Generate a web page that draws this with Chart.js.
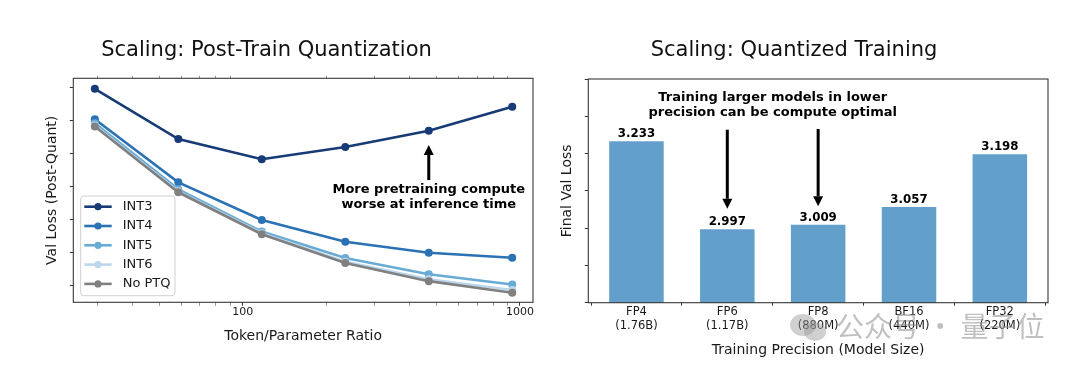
<!DOCTYPE html>
<html><head><meta charset="utf-8">
<script src="https://cdn.jsdelivr.net/npm/chart.js@4.4.1/dist/chart.umd.min.js"></script>
<style>
html,body{margin:0;padding:0;background:#fff;width:1080px;height:372px;overflow:hidden;}
#left{position:absolute;left:0;top:0;width:540px;height:372px;}
#right{position:absolute;left:540px;top:0;width:540px;height:372px;}
#wm{position:absolute;left:836px;top:305px;font-family:"Noto Sans CJK SC";font-size:28px;line-height:40px;color:rgba(140,140,140,0.55);white-space:nowrap;}
#ic1{position:absolute;left:790px;top:314px;width:26px;height:22px;border-radius:50%;background:rgba(150,150,150,0.45);}
#ic2{position:absolute;left:804px;top:322px;width:22px;height:19px;border-radius:50%;background:rgba(150,150,150,0.45);}
</style></head><body>
<div id="left"><canvas id="c1" width="540" height="372"></canvas></div>
<div id="right"><canvas id="c2" width="540" height="372"></canvas></div>
<div id="ic1"></div><div id="ic2"></div>
<div id="wm">公众号 · 量子位</div>
<script>
// ---------- data: left chart ----------
const ratios = [29.3, 58.6, 117.2, 234.4, 468.8, 937.5];
const int3  = [3.596, 3.444, 3.383, 3.420, 3.469, 3.542];
const int4  = [3.504, 3.313, 3.199, 3.133, 3.100, 3.085];
const int5  = [3.492, 3.292, 3.164, 3.084, 3.035, 3.004];
const int6  = [3.485, 3.286, 3.159, 3.073, 3.020, 2.987];
const noPtq = [3.482, 3.283, 3.156, 3.069, 3.014, 2.979];
const seriesNames = ['INT3', 'INT4', 'INT5', 'INT6', 'No PTQ'];
const leftYTicks = [3.0, 3.1, 3.2, 3.3, 3.4, 3.5, 3.6];
const xMajorTicks = [100, 1000];
const xMinorTicks = [30, 40, 50, 60, 70, 80, 90, 200, 300, 400, 500, 600, 700, 800, 900];

// ---------- data: right chart ----------
const precisions = ['FP4', 'FP6', 'FP8', 'BF16', 'FP32'];
const modelSizes = ['(1.76B)', '(1.17B)', '(880M)', '(440M)', '(220M)'];
const finalLoss = [3.233, 2.997, 3.009, 3.057, 3.198];
const rightYTicks = [2.8, 2.9, 3.0, 3.1, 3.2, 3.3, 3.4];

Chart.defaults.font.family = "'DejaVu Sans', sans-serif";
Chart.defaults.color = '#1a1a1a';

const seriesValues = [int3, int4, int5, int6, noPtq];
const seriesColors = ['#173b76', '#2a72b3', '#68acd6', '#bcd6eb', '#808080'];
const AXC = '#383838';

function arrow(ctx, x, yFrom, yTo) {
  const dir = Math.sign(yTo - yFrom), hl = 10, hw = 5;
  ctx.save();
  ctx.strokeStyle = '#000'; ctx.fillStyle = '#000'; ctx.lineWidth = 3;
  ctx.beginPath(); ctx.moveTo(x, yFrom); ctx.lineTo(x, yTo - dir * hl); ctx.stroke();
  ctx.beginPath(); ctx.moveTo(x, yTo); ctx.lineTo(x - hw, yTo - dir * hl); ctx.lineTo(x + hw, yTo - dir * hl); ctx.closePath(); ctx.fill();
  ctx.restore();
}
function frame(chart) {
  const {ctx, chartArea: a} = chart;
  ctx.save(); ctx.strokeStyle = AXC; ctx.lineWidth = 1.1;
  ctx.strokeRect(a.left, a.top, a.right - a.left, a.bottom - a.top);
  ctx.restore();
}

const leftPlugin = {
  id: 'leftExtras',
  afterDatasetsDraw(chart) {
    frame(chart);
    const {ctx, chartArea: a, scales} = chart;
    const xs = scales.x, ys = scales.y;
    const ax = xs.getPixelForValue(ratios[4]);
    arrow(ctx, ax, ys.getPixelForValue(3.320), ys.getPixelForValue(3.426));
    ctx.save();
    ctx.font = "bold 13px 'DejaVu Sans'"; ctx.fillStyle = '#000';
    ctx.textAlign = 'center'; ctx.textBaseline = 'middle';
    ctx.fillText('More pretraining compute', ax, ys.getPixelForValue(3.292));
    ctx.fillText('worse at inference time', ax, ys.getPixelForValue(3.247));
    ctx.restore();
    const lx = a.left + 7.4, lw = 94.3, lh = 99.7, ly = a.bottom - 6.6 - lh;
    ctx.save();
    ctx.beginPath();
    if (ctx.roundRect) ctx.roundRect(lx, ly, lw, lh, 3); else ctx.rect(lx, ly, lw, lh);
    ctx.fillStyle = 'rgba(255,255,255,0.85)'; ctx.fill();
    ctx.strokeStyle = '#d0d0d0'; ctx.lineWidth = 1; ctx.stroke();
    ctx.font = "13px 'DejaVu Sans'"; ctx.textBaseline = 'middle'; ctx.textAlign = 'left';
    seriesNames.forEach((n, i) => {
      const y = ly + 10.7 + i * 19.3;
      ctx.strokeStyle = seriesColors[i]; ctx.lineWidth = 2.6;
      ctx.beginPath(); ctx.moveTo(lx + 3.6, y); ctx.lineTo(lx + 31, y); ctx.stroke();
      ctx.fillStyle = seriesColors[i];
      ctx.beginPath(); ctx.arc(lx + 17.3, y, 3.6, 0, Math.PI * 2); ctx.fill();
      ctx.fillStyle = '#1a1a1a'; ctx.fillText(n, lx + 42, y);
    });
    ctx.restore();
  }
};

const allXTicks = xMinorTicks.concat(xMajorTicks).sort((p, q) => p - q);
function logTicks(scale) { scale.ticks = allXTicks.map(v => ({value: v})); }

new Chart(document.getElementById('c1'), {
  type: 'line',
  data: {
    datasets: seriesNames.map((n, i) => ({
      label: n,
      data: ratios.map((r, j) => ({x: r, y: seriesValues[i][j]})),
      borderColor: seriesColors[i], backgroundColor: seriesColors[i],
      pointBackgroundColor: seriesColors[i], pointBorderWidth: 0,
      borderWidth: 2.6, pointRadius: 4, pointHoverRadius: 4,
      tension: 0, order: 5 - i
    }))
  },
  options: {
    responsive: false, animation: false,
    layout: {padding: {left: 0, right: 7, top: 0, bottom: 0}},
    plugins: {
      legend: {display: false}, tooltip: {enabled: false},
      title: {display: true, text: 'Scaling: Post-Train Quantization',
        font: {size: 21, weight: 'normal'}, color: '#111', padding: {top: 38, bottom: 10.1}}
    },
    scales: {
      x: {
        type: 'logarithmic', position: 'bottom', min: 24.5, max: 1114,
        afterBuildTicks: logTicks,
        afterFit: s => { s.height = 69.7; },
        border: {display: false},
        grid: {drawOnChartArea: false, drawTicks: true, tickLength: 3.5,
          tickColor: c => xMajorTicks.includes(c.tick && c.tick.value) ? AXC : '#6a6a6a',
          tickWidth: c => xMajorTicks.includes(c.tick && c.tick.value) ? 1 : 0.7},
        ticks: {autoSkip: false, maxRotation: 0, padding: 0, font: {size: 11}, color: '#1a1a1a',
          callback: v => xMajorTicks.includes(v) ? String(v) : ''},
        title: {display: true, text: 'Token/Parameter Ratio', font: {size: 14}, color: '#1a1a1a',
          padding: {top: 0, bottom: 27.6}}
      },
      x2: {
        type: 'logarithmic', position: 'top', min: 24.5, max: 1114,
        afterBuildTicks: logTicks,
        afterFit: s => { s.height = 5; },
        border: {display: false},
        grid: {drawOnChartArea: false, drawTicks: true, tickLength: 2.5,
          tickColor: c => xMajorTicks.includes(c.tick && c.tick.value) ? 'rgba(0,0,0,0)' : '#6a6a6a',
          tickWidth: 0.7},
        ticks: {display: false}
      },
      y: {
        type: 'linear', position: 'left', min: 2.95, max: 3.628,
        afterBuildTicks: s => { s.ticks = leftYTicks.map(v => ({value: v})); },
        afterFit: s => { s.width = 73.3; },
        border: {display: false},
        grid: {drawOnChartArea: false, drawTicks: true, tickLength: 3.5, tickColor: AXC, tickWidth: 1},
        ticks: {display: false},
        title: {display: true, text: 'Val Loss (Post-Quant)', font: {size: 14}, color: '#1a1a1a',
          padding: {top: 43.6, bottom: 0}}
      }
    }
  },
  plugins: [leftPlugin]
});

const rightPlugin = {
  id: 'rightExtras',
  afterDatasetsDraw(chart) {
    const {ctx, scales} = chart;
    const xs = scales.x, ys = scales.y;
    const meta = chart.getDatasetMeta(0);
    ctx.save();
    ctx.font = "bold 11.8px 'DejaVu Sans'"; ctx.fillStyle = '#000';
    ctx.textAlign = 'center'; ctx.textBaseline = 'alphabetic';
    meta.data.forEach((bar, i) => {
      ctx.fillText(finalLoss[i].toFixed(3), bar.x, bar.y - 4);
    });
    ctx.font = "bold 13px 'DejaVu Sans'"; ctx.textBaseline = 'middle';
    const tx = xs.getPixelForValue(1.5);
    ctx.fillText('Training larger models in lower', tx, ys.getPixelForValue(3.351));
    ctx.fillText('precision can be compute optimal', tx, ys.getPixelForValue(3.311));
    ctx.restore();
    arrow(ctx, xs.getPixelForValue(1), ys.getPixelForValue(3.264), ys.getPixelForValue(3.052));
    arrow(ctx, xs.getPixelForValue(2), ys.getPixelForValue(3.266), ys.getPixelForValue(3.059));
    frame(chart);
  }
};

new Chart(document.getElementById('c2'), {
  type: 'bar',
  data: {
    datasets: [{
      label: 'Final Val Loss',
      data: precisions.map((p, i) => ({x: i, y: finalLoss[i]})),
      backgroundColor: '#62a0cb', borderWidth: 0,
      barPercentage: 0.6, categoryPercentage: 1.0
    }]
  },
  options: {
    responsive: false, animation: false,
    layout: {padding: {left: 0, right: 32, top: 0, bottom: 0}},
    plugins: {
      legend: {display: false}, tooltip: {enabled: false},
      title: {display: true, text: 'Scaling: Quantized Training',
        font: {size: 21, weight: 'normal'}, color: '#111', padding: {top: 38, bottom: 15.8}}
    },
    scales: {
      x: {
        type: 'linear', position: 'bottom', min: -0.53, max: 4.53, offset: false,
        afterBuildTicks: s => { s.ticks = precisions.map((p, i) => ({value: i})); },
        afterFit: s => { s.height = 69.3; },
        border: {display: false},
        grid: {drawOnChartArea: false, drawTicks: true, tickLength: 3, tickColor: AXC, tickWidth: 1},
        ticks: {autoSkip: false, maxRotation: 0, padding: -1, font: {size: 11.5, lineHeight: 1.25}, color: '#1a1a1a',
          callback: v => [precisions[v], modelSizes[v]]},
        title: {display: true, text: 'Training Precision (Model Size)', font: {size: 14}, color: '#1a1a1a',
          padding: {top: 0, bottom: 13.6}}
      },
      y: {
        type: 'linear', position: 'left', min: 2.8, max: 3.4,
        afterBuildTicks: s => { s.ticks = rightYTicks.map(v => ({value: v})); },
        afterFit: s => { s.width = 48.3; },
        border: {display: false},
        grid: {drawOnChartArea: false, drawTicks: true, tickLength: 3.5, tickColor: AXC, tickWidth: 1},
        ticks: {display: false},
        title: {display: true, text: 'Final Val Loss', font: {size: 14}, color: '#1a1a1a',
          padding: {top: 18.9, bottom: 0}}
      }
    }
  },
  plugins: [rightPlugin]
});
</script>
</body></html>
